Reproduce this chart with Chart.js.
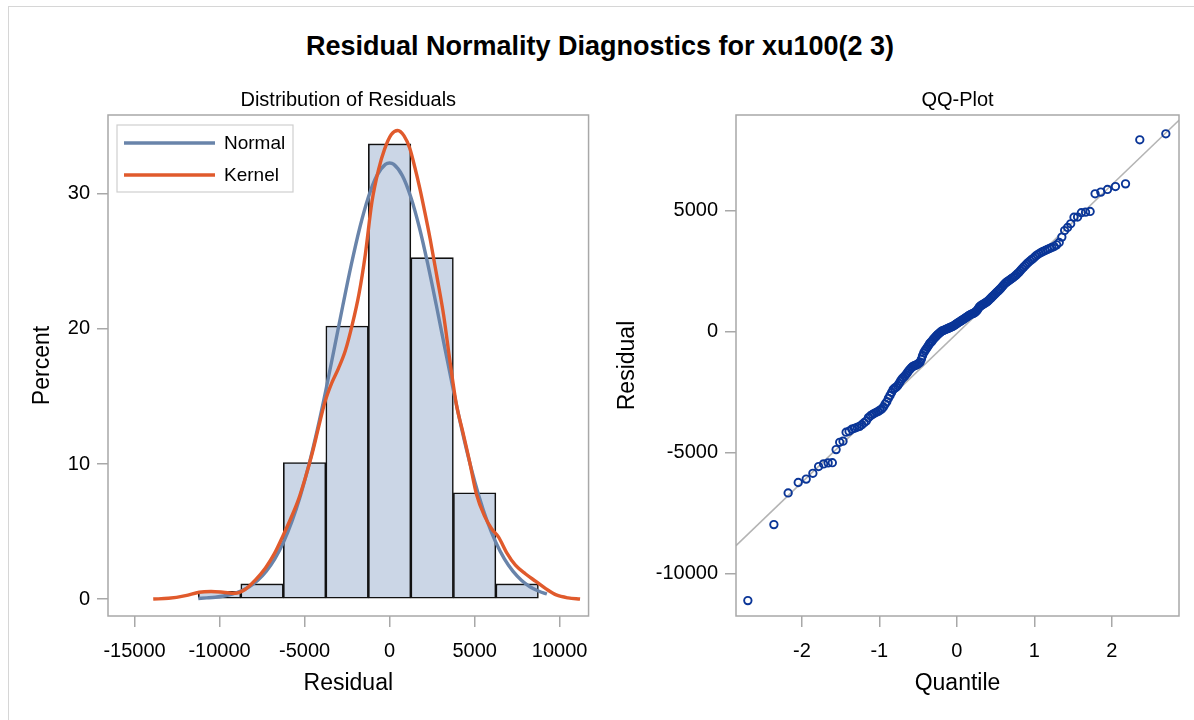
<!DOCTYPE html>
<html lang="en">
<head>
<meta charset="UTF-8">
<title>Residual Normality Diagnostics for xu100(2 3)</title>
<script src="https://cdn.jsdelivr.net/npm/chart.js"></script>
<style>
  body { margin: 0; background: #fff; font-family: "Liberation Sans", Arial, sans-serif; }
  #page { position: relative; width: 1194px; height: 720px; overflow: hidden; background: #fff; }
  #outer { position: absolute; left: 8px; top: 6px; width: 1200px; height: 730px; border: 1px solid #d6d6d6; }
  #title { position: absolute; left: 0; top: 30px; width: 1200px; text-align: center;
           font-weight: bold; font-size: 27px; line-height: 32px; color: #000; }
  .box { position: absolute; top: 0; height: 720px; }
</style>
</head>
<body>
<div id="page">
  <div id="outer"></div>
  <div id="title">Residual Normality Diagnostics for xu100(2 3)</div>
  <div class="box" style="left:0;width:600px"><canvas id="histChart" width="600" height="720"></canvas></div>
  <div class="box" style="left:600px;width:594px"><canvas id="qqChart" width="594" height="720"></canvas></div>
</div>

<script>
// ---- histogram of residuals (percent per 2500-wide bin) ----
const binCenters = [-10000, -7500, -5000, -2500, 0, 2500, 5000, 7500];
const binPercent = [0.56, 1.12, 10.11, 20.22, 33.71, 25.28, 7.87, 1.12];

// fitted normal curve
const normalX = [-11250, -10750, -10250, -9750, -9250, -8750, -8250, -7750, -7250, -6750,
  -6250, -5750, -5250, -4750, -4250, -3750, -3250, -2750, -2250, -1750,
  -1250, -750, -250, 0, 250, 750, 1250, 1750, 2250, 2750,
  3250, 3750, 4250, 4750, 5250, 5750, 6250, 6750, 7250, 7750,
  8250, 8750, 9250];
const normalY = [0.04, 0.08, 0.13, 0.22, 0.37, 0.59, 0.91, 1.39, 2.06, 2.97,
  4.18, 5.72, 7.63, 9.91, 12.54, 15.46, 18.58, 21.74, 24.78, 27.52,
  29.76, 31.36, 32.19, 32.3, 32.19, 31.36, 29.76, 27.52, 24.78, 21.74,
  18.58, 15.46, 12.54, 9.91, 7.63, 5.72, 4.18, 2.97, 2.06, 1.39,
  0.91, 0.59, 0.37];

// kernel density curve
const kernelX = [-13900, -13000, -12000, -11200, -10500, -9800, -9100, -8500, -7900, -7300,
  -6800, -6300, -5800, -5350, -4950, -4570, -4200, -3800, -3400, -3000,
  -2600, -2200, -1800, -1430, -1040, -650, -300, 100, 480, 850,
  1180, 1480, 1780, 2080, 2380, 2780, 3180, 3550, 3930, 4300,
  4700, 5100, 5600, 6000, 6400, 6900, 7400, 8000, 8600, 9200,
  9800, 10500, 11200];
const kernelY = [0.0, 0.05, 0.25, 0.5, 0.55, 0.5, 0.42, 0.7, 1.4, 2.3,
  3.3, 4.6, 6.0, 7.4, 9.0, 10.7, 12.6, 14.6, 16.0, 17.1,
  18.4, 20.3, 22.6, 25.5, 29.4, 31.8, 33.3, 34.4, 34.7, 34.3,
  33.4, 32.0, 30.4, 28.6, 26.7, 23.9, 21.0, 17.6, 14.4, 12.4,
  10.2, 7.8, 6.1, 5.2, 4.6, 3.4, 2.5, 1.85, 1.3, 0.75,
  0.3, 0.08, 0.0];

const residualTicks = [-15000, -10000, -5000, 0, 5000, 10000];
const percentTicks = [0, 10, 20, 30];

// ---- QQ plot: normal quantile vs sorted residual ----
const qqQuantile = [-2.697, -2.361, -2.177, -2.047, -1.944, -1.858, -1.784, -1.720, -1.661, -1.607,
  -1.558, -1.512, -1.469, -1.429, -1.391, -1.355, -1.321, -1.288, -1.256, -1.226,
  -1.197, -1.168, -1.141, -1.114, -1.089, -1.064, -1.039, -1.015, -0.992, -0.969,
  -0.947, -0.925, -0.904, -0.883, -0.862, -0.842, -0.822, -0.803, -0.783, -0.764,
  -0.746, -0.727, -0.709, -0.691, -0.673, -0.656, -0.638, -0.621, -0.604, -0.587,
  -0.571, -0.554, -0.538, -0.522, -0.506, -0.490, -0.474, -0.458, -0.443, -0.427,
  -0.412, -0.396, -0.381, -0.366, -0.351, -0.336, -0.321, -0.307, -0.292, -0.277,
  -0.263, -0.248, -0.234, -0.219, -0.205, -0.191, -0.176, -0.162, -0.148, -0.134,
  -0.120, -0.106, -0.092, -0.078, -0.063, -0.049, -0.035, -0.021, -0.007,
  0.007, 0.021, 0.035, 0.049, 0.063, 0.078, 0.092, 0.106, 0.120, 0.134,
  0.148, 0.162, 0.176, 0.191, 0.205, 0.219, 0.234, 0.248, 0.263, 0.277,
  0.292, 0.307, 0.321, 0.336, 0.351, 0.366, 0.381, 0.396, 0.412, 0.427,
  0.443, 0.458, 0.474, 0.490, 0.506, 0.522, 0.538, 0.554, 0.571, 0.587,
  0.604, 0.621, 0.638, 0.656, 0.673, 0.691, 0.709, 0.727, 0.746, 0.764,
  0.783, 0.803, 0.822, 0.842, 0.862, 0.883, 0.904, 0.925, 0.947, 0.969,
  0.992, 1.015, 1.039, 1.064, 1.089, 1.114, 1.141, 1.168, 1.197, 1.226,
  1.256, 1.288, 1.321, 1.355, 1.391, 1.429, 1.469, 1.512, 1.558, 1.607,
  1.661, 1.720, 1.784, 1.858, 1.944, 2.047, 2.177, 2.361, 2.697];
const qqResidual = [-11120, -7980, -6670, -6240, -6100, -5860, -5580, -5470, -5430, -5420,
  -4880, -4580, -4530, -4160, -4120, -4040, -4000, -3960, -3920, -3850,
  -3770, -3700, -3560, -3480, -3430, -3380, -3340, -3300, -3250, -3200,
  -3120, -3000, -2900, -2760, -2640, -2520, -2400, -2340, -2300, -2240,
  -2150, -2050, -1960, -1900, -1850, -1780, -1700, -1620, -1560, -1500,
  -1450, -1420, -1400, -1380, -1350, -1310, -1270, -1150, -1000, -880,
  -800, -720, -650, -580, -500, -450, -400, -330, -280, -230,
  -180, -130, -90, -50, -10, 20, 40, 60, 80, 100,
  120, 140, 160, 180, 200, 220, 250, 280, 310,
  340, 370, 400, 430, 460, 490, 520, 550, 580, 610,
  640, 670, 700, 720, 740, 760, 790, 830, 880, 950,
  1020, 1060, 1090, 1120, 1150, 1180, 1210, 1240, 1290, 1340,
  1390, 1440, 1490, 1540, 1590, 1640, 1690, 1740, 1800, 1860,
  1920, 1980, 2030, 2070, 2110, 2150, 2190, 2230, 2280, 2330,
  2390, 2450, 2520, 2590, 2660, 2730, 2800, 2860, 2920, 2980,
  3040, 3110, 3170, 3220, 3270, 3310, 3350, 3390, 3430, 3470,
  3510, 3580, 3680, 3900, 4170, 4300, 4450, 4720, 4730, 4910,
  4930, 4960, 5690, 5760, 5870, 5990, 6100, 7920, 8170];
// reference line ends
const refLineQ = [-2.85, 2.87];
const refLineR = [-8850, 8740];

const quantileTicks = [-2, -1, 0, 1, 2];
const qqResidualTicks = [-10000, -5000, 0, 5000];

Chart.defaults.font.family = '"Liberation Sans", Arial, sans-serif';
Chart.defaults.color = '#000';

const FRAME = '#a8a8a8';

// frame round the plot area + the panel heading above it
const framePlugin = {
  id: 'frame',
  afterDraw(chart, args, opts) {
    const { ctx, chartArea: a } = chart;
    ctx.save();
    ctx.strokeStyle = FRAME;
    ctx.lineWidth = 1.5;
    ctx.strokeRect(a.left, a.top, a.right - a.left, a.bottom - a.top);
    ctx.fillStyle = '#000';
    ctx.font = '20px "Liberation Sans", Arial, sans-serif';
    ctx.textAlign = 'center';
    ctx.textBaseline = 'middle';
    ctx.fillText(opts.heading, (a.left + a.right) / 2, a.top - 15);
    ctx.restore();
  }
};

// legend box inside the plot, top left
const insetLegend = {
  id: 'insetLegend',
  afterDatasetsDraw(chart, args, opts) {
    if (!opts.labels) return;
    const { ctx, chartArea: a } = chart;
    const x0 = a.left + 9, y0 = a.top + 10;
    ctx.save();
    ctx.fillStyle = '#fff';
    ctx.fillRect(x0, y0, 176, 67);
    ctx.strokeStyle = '#cfcfcf';
    ctx.lineWidth = 1.2;
    ctx.strokeRect(x0, y0, 176, 67);
    opts.labels.forEach((name, i) => {
      const ds = chart.data.datasets.find(d => d.label === name);
      const y = y0 + 18 + i * 32;
      ctx.strokeStyle = ds.borderColor;
      ctx.lineWidth = 3.4;
      ctx.beginPath();
      ctx.moveTo(x0 + 7, y);
      ctx.lineTo(x0 + 98, y);
      ctx.stroke();
      ctx.fillStyle = '#000';
      ctx.font = '19px "Liberation Sans", Arial, sans-serif';
      ctx.textAlign = 'left';
      ctx.textBaseline = 'middle';
      ctx.fillText(name, x0 + 107, y + 1);
    });
    ctx.restore();
  }
};

function tickGrid() {
  return { drawOnChartArea: false, drawTicks: true, tickLength: 11, color: FRAME, lineWidth: 1.5 };
}
function setTicks(list) {
  return scale => { scale.ticks = list.map(v => ({ value: v })); };
}

const pts = (xs, ys) => xs.map((x, i) => ({ x: x, y: ys[i] }));

// left panel: distribution of residuals
new Chart(document.getElementById('histChart'), {
  type: 'bar',
  data: {
    datasets: [
      {
        type: 'line', label: 'Kernel', order: 1,
        data: pts(kernelX, kernelY),
        borderColor: '#e05a2c', borderWidth: 3.4, pointRadius: 0,
        cubicInterpolationMode: 'monotone'
      },
      {
        type: 'line', label: 'Normal', order: 2,
        data: pts(normalX, normalY),
        borderColor: '#6984aa', borderWidth: 3.4, pointRadius: 0,
        cubicInterpolationMode: 'monotone'
      },
      {
        label: 'Percent', order: 3,
        data: pts(binCenters, binPercent),
        backgroundColor: '#cbd6e6', borderColor: '#111', borderWidth: 1.6,
        borderSkipped: false, barPercentage: 1, categoryPercentage: 1
      }
    ]
  },
  options: {
    responsive: false,
    animation: false,
    events: [],
    layout: { padding: { top: 115, right: 9, left: 0, bottom: 0 } },
    plugins: {
      legend: { display: false },
      tooltip: { enabled: false },
      frame: { heading: 'Distribution of Residuals' },
      insetLegend: { labels: ['Normal', 'Kernel'] }
    },
    scales: {
      x: {
        type: 'linear', offset: false, min: -16560, max: 11700,
        afterBuildTicks: setTicks(residualTicks),
        afterFit: s => { s.height = 104; },
        grid: Object.assign(tickGrid(), { offset: false }),
        border: { display: false },
        ticks: { font: { size: 20 }, padding: 12, maxRotation: 0, callback: v => String(v) },
        title: { display: true, text: 'Residual', font: { size: 23 }, padding: { top: 0, bottom: 23 } }
      },
      y: {
        min: -1.26, max: 35.85,
        afterBuildTicks: setTicks(percentTicks),
        afterFit: s => { s.width = 108; },
        grid: tickGrid(),
        border: { display: false },
        ticks: { font: { size: 20 }, padding: 7, callback: v => String(v) },
        title: { display: true, text: 'Percent', font: { size: 23 }, padding: { top: 29, bottom: 0 } }
      }
    }
  },
  plugins: [framePlugin, insetLegend]
});

// right panel: QQ plot
new Chart(document.getElementById('qqChart'), {
  type: 'scatter',
  data: {
    datasets: [
      {
        label: 'Residual', order: 1,
        data: pts(qqQuantile, qqResidual),
        pointStyle: 'circle', pointRadius: 3.7, borderWidth: 1.9,
        borderColor: '#0a3597', backgroundColor: 'rgba(0,0,0,0)'
      },
      {
        label: 'Reference', order: 2, showLine: true,
        data: pts(refLineQ, refLineR),
        borderColor: '#b4b4b4', borderWidth: 1.6, pointRadius: 0
      }
    ]
  },
  options: {
    responsive: false,
    animation: false,
    events: [],
    layout: { padding: { top: 115, right: 15, left: 0, bottom: 0 } },
    plugins: {
      legend: { display: false },
      tooltip: { enabled: false },
      frame: { heading: 'QQ-Plot' }
    },
    scales: {
      x: {
        type: 'linear', min: -2.85, max: 2.867,
        afterBuildTicks: setTicks(quantileTicks),
        afterFit: s => { s.height = 104; },
        grid: tickGrid(),
        border: { display: false },
        ticks: { font: { size: 20 }, padding: 12, maxRotation: 0, callback: v => String(v) },
        title: { display: true, text: 'Quantile', font: { size: 23 }, padding: { top: 0, bottom: 23 } }
      },
      y: {
        min: -11756, max: 8946,
        afterBuildTicks: setTicks(qqResidualTicks),
        afterFit: s => { s.width = 136; },
        grid: tickGrid(),
        border: { display: false },
        ticks: { font: { size: 20 }, padding: 7, callback: v => String(v) },
        title: { display: true, text: 'Residual', font: { size: 23 }, padding: { top: 14, bottom: 0 } }
      }
    }
  },
  plugins: [framePlugin]
});
</script>
</body>
</html>
